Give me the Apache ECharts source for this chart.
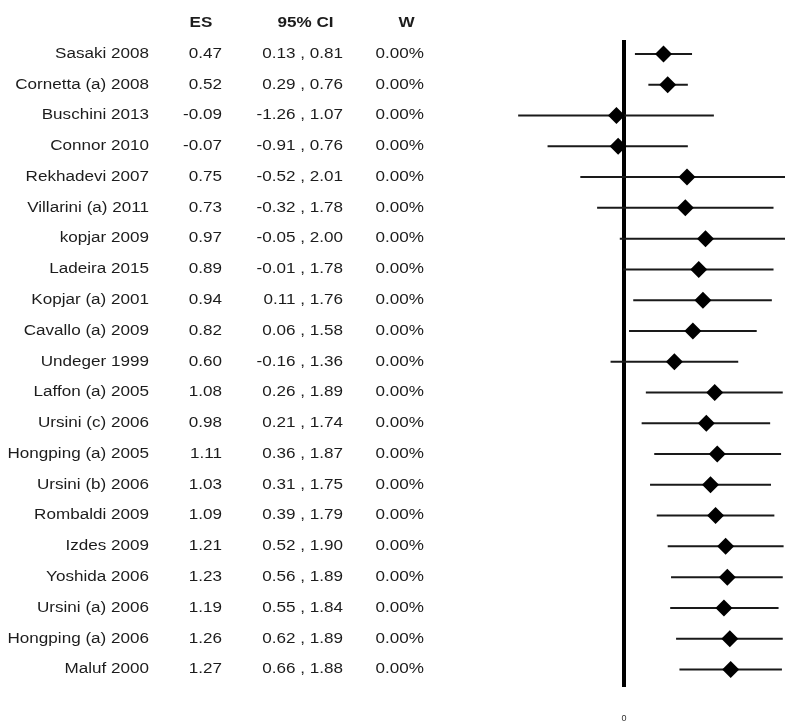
<!DOCTYPE html>
<html>
<head>
<meta charset="utf-8">
<script src="https://cdn.jsdelivr.net/npm/echarts@6/dist/echarts.min.js"></script>
<style>
  html, body { margin: 0; padding: 0; background: #ffffff; }
  #chart { width: 785px; height: 724px; }
</style>
</head>
<body>
<div id="chart"></div>
<script>
// Study labels, top to bottom
const studies = [
  'Sasaki 2008', 'Cornetta (a) 2008', 'Buschini 2013', 'Connor 2010',
  'Rekhadevi 2007', 'Villarini (a) 2011', 'kopjar 2009', 'Ladeira 2015',
  'Kopjar (a) 2001', 'Cavallo (a) 2009', 'Undeger 1999', 'Laffon (a) 2005',
  'Ursini (c) 2006', 'Hongping (a) 2005', 'Ursini (b) 2006', 'Rombaldi 2009',
  'Izdes 2009', 'Yoshida 2006', 'Ursini (a) 2006', 'Hongping (a) 2006',
  'Maluf 2000'
];
// Effect sizes
const es = [0.47, 0.52, -0.09, -0.07, 0.75, 0.73, 0.97, 0.89, 0.94, 0.82, 0.60,
            1.08, 0.98, 1.11, 1.03, 1.09, 1.21, 1.23, 1.19, 1.26, 1.27];
// 95% confidence interval bounds
const ciLow = [0.13, 0.29, -1.26, -0.91, -0.52, -0.32, -0.05, -0.01, 0.11, 0.06, -0.16,
               0.26, 0.21, 0.36, 0.31, 0.39, 0.52, 0.56, 0.55, 0.62, 0.66];
const ciHigh = [0.81, 0.76, 1.07, 0.76, 2.01, 1.78, 2.00, 1.78, 1.76, 1.58, 1.36,
                1.89, 1.74, 1.87, 1.75, 1.79, 1.90, 1.89, 1.84, 1.89, 1.88];
// Weights (percent)
const weights = [0, 0, 0, 0, 0, 0, 0, 0, 0, 0, 0, 0, 0, 0, 0, 0, 0, 0, 0, 0, 0];
// Column headings
const headers = ['ES', '95% CI', 'W'];
// Axis tick labels shown
const xTickLabels = ['0'];

const TEXT_COLOR = '#1c1c1c';
const STRETCH = 1.22;
const rowFont = '14px "Liberation Sans", Arial, sans-serif';
const headFont = 'bold 14px "Liberation Sans", Arial, sans-serif';

// Column anchors (right edges for row text, centres for headings)
const colRight = [149, 222, 343, 424];
const headCenter = [201, 305.5, 406.5];

function stretchedText(text, x, y, align, font) {
  return {
    type: 'text',
    x: x, y: y,
    scaleX: STRETCH, scaleY: 1,
    originX: 0, originY: 0,
    style: {
      text: text, x: 0, y: 0,
      align: align, verticalAlign: 'middle',
      font: font, fill: TEXT_COLOR
    },
    silent: true
  };
}

const rows = studies.map((s, i) => [es[i], i, ciLow[i], ciHigh[i]]);
const nRows = studies.length;
const yMin = -0.455;
const yMax = nRows - 1 + 0.57;

const chart = echarts.init(document.getElementById('chart'), null, { renderer: 'canvas' });

chart.setOption({
  backgroundColor: '#ffffff',
  animation: false,
  grid: {
    left: 498, top: 40, width: 302.4, height: 647,
    containLabel: false,
    outerBoundsMode: 'none'
  },
  xAxis: {
    type: 'value',
    min: -1.5, max: 2.1, interval: 0.3,
    axisLine: { show: false },
    axisTick: { show: false },
    splitLine: { show: false },
    axisLabel: {
      margin: 27,
      fontSize: 9,
      color: '#333333',
      fontFamily: '"Liberation Sans", Arial, sans-serif',
      formatter: v => (Math.abs(v) < 1e-9 ? xTickLabels[0] : '')
    }
  },
  yAxis: {
    type: 'value',
    inverse: true,
    min: yMin, max: yMax,
    show: false
  },
  graphic: headers.map((h, k) => stretchedText(h, headCenter[k], 23, 'center', headFont)),
  series: [
    {
      // vertical line of no effect
      type: 'line',
      data: [[0, yMin], [0, yMax]],
      symbol: 'none',
      lineStyle: { color: '#000000', width: 4 },
      silent: true,
      z: 3
    },
    {
      type: 'custom',
      data: rows,
      encode: { x: [0, 2, 3], y: 1 },
      clip: false,
      z: 4,
      renderItem: function (params, api) {
        const idx = params.dataIndex;
        const row = api.value(1);
        const c = api.coord([api.value(0), row]);
        const lo = api.coord([api.value(2), row]);
        const hi = api.coord([api.value(3), row]);
        const y = c[1];
        const h = 8.5;
        const w = 8.5;
        const ciText = ciLow[idx].toFixed(2) + ' , ' + ciHigh[idx].toFixed(2);
        return {
          type: 'group',
          children: [
            {
              type: 'line',
              shape: { x1: lo[0], y1: y, x2: hi[0], y2: y },
              style: { stroke: '#1a1a1a', lineWidth: 2 }
            },
            {
              type: 'polygon',
              shape: { points: [[c[0], y - h], [c[0] + w, y], [c[0], y + h], [c[0] - w, y]] },
              style: { fill: '#000000' }
            },
            stretchedText(studies[idx], colRight[0], y, 'right', rowFont),
            stretchedText(es[idx].toFixed(2), colRight[1], y, 'right', rowFont),
            stretchedText(ciText, colRight[2], y, 'right', rowFont),
            stretchedText(weights[idx].toFixed(2) + '%', colRight[3], y, 'right', rowFont)
          ]
        };
      }
    }
  ]
});
</script>
</body>
</html>
